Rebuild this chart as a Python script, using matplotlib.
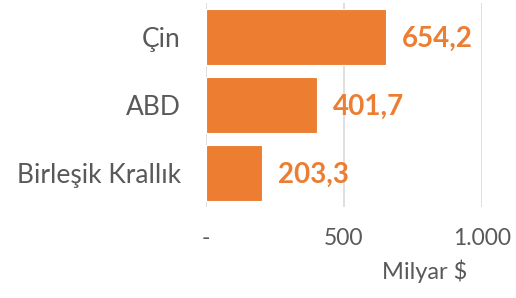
import matplotlib.pyplot as plt
import numpy as np

categories = ["Çin", "ABD", "Birleşik Krallık"]
values = [654.2, 401.7, 203.3]
value_labels = ["654,2", "401,7", "203,3"]
x_ticks = [0, 500, 1000]
x_tick_labels = ["-", "500", "1.000"]

orange = "#ED7D31"
gray = "#595959"
plt.rcParams["font.family"] = ["Lato", "DejaVu Sans"]

fig = plt.figure(figsize=(5.16, 2.98), dpi=100)
ax = fig.add_axes([0.3987, 0.305, 0.535, 0.685])

y = np.arange(len(categories))
ax.barh(y, values, height=0.83, color=orange, edgecolor="white", linewidth=0.8, zorder=3)
ax.set_ylim(2.5, -0.5)
ax.set_xlim(0, 1000)

# data labels
for yi, v, lab in zip(y, values, value_labels):
    ax.annotate(lab, (v, yi), xytext=(11.5, -1.5), textcoords="offset points",
                ha="left", va="center", color=orange, fontsize=20, fontweight="bold")

ax.set_yticks(y)
ax.set_yticklabels(categories, fontsize=19, color=gray)
ax.set_xticks(x_ticks)
ax.set_xticklabels(x_tick_labels, fontsize=16.5, color=gray)
ax.tick_params(axis="y", length=0, pad=18)
ax.tick_params(axis="x", length=0, pad=15)
ax.xaxis.grid(True, color="#D9D9D9", linewidth=1.2, zorder=0)
ax.set_axisbelow(True)
for s in ax.spines.values():
    s.set_visible(False)

fig.text(424.5 / 516, 1 - 271 / 298, "Milyar $", fontsize=17, color=gray,
         ha="center", va="center")

fig.savefig("out.png", dpi=100)
